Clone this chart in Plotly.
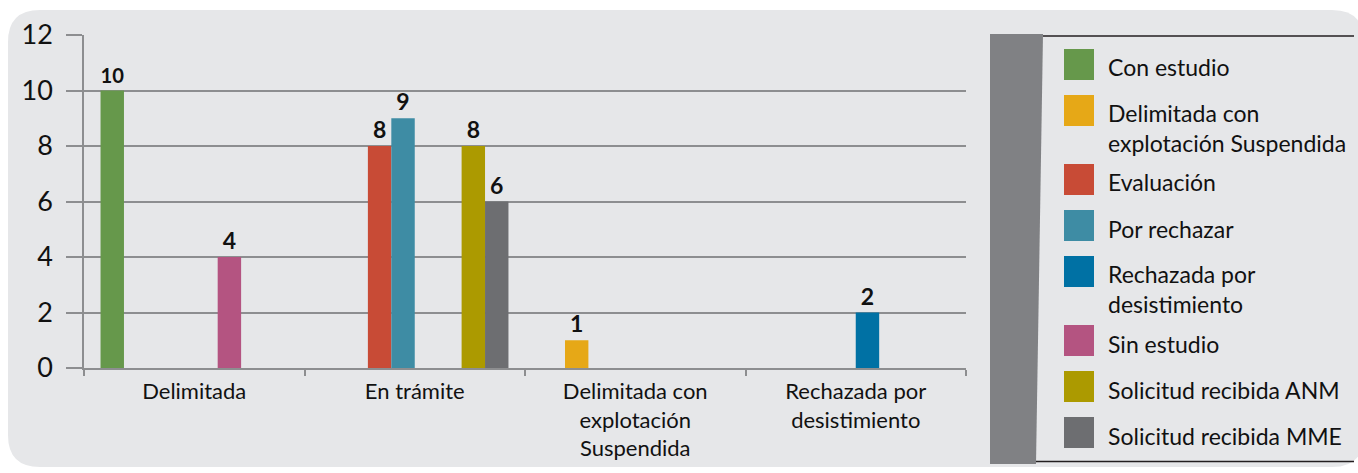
import plotly.graph_objects as go

# ---------------- data ----------------
categories = ["Delimitada", "En trámite",
              "Delimitada con<br>explotación<br>Suspendida",
              "Rechazada por<br>desistimiento"]
series_names = ["Con estudio", "Delimitada con<br>explotación Suspendida", "Evaluación",
                "Por rechazar", "Rechazada por<br>desistimiento", "Sin estudio",
                "Solicitud recibida ANM", "Solicitud recibida MME"]
con_estudio = [10, None, None, None]
delimitada_susp = [None, None, 1, None]
evaluacion = [None, 8, None, None]
por_rechazar = [None, 9, None, None]
rechazada_des = [None, None, None, 2]
sin_estudio = [4, None, None, None]
sol_anm = [None, 8, None, None]
sol_mme = [None, 6, None, None]
series_values = [con_estudio, delimitada_susp, evaluacion, por_rechazar,
                 rechazada_des, sin_estudio, sol_anm, sol_mme]
colors = ["#66984b", "#e6a817", "#c84b36", "#3e8ca4",
          "#0071a4", "#b45481", "#ac9a00", "#6d6e71"]
y_ticks = [0, 2, 4, 6, 8, 10, 12]

FONT = "Lato"
W, H = 1358, 473
L, R, T, B = 84, 966, 35, 368  # plot area in pixels


def px(x):
    return (x - L) / (R - L)


def py(y):
    return (B - y) / (B - T)


fig = go.Figure()
for name, vals, col in zip(series_names, series_values, colors):
    fig.add_trace(go.Bar(
        x=categories, y=vals, name=name.replace("<br>", " "),
        marker=dict(color=col, line=dict(width=0)),
        texttemplate="%{y}", textposition="outside",
        textfont=dict(family=FONT, size=23, color="#111111", weight="bold"),
        cliponaxis=False, showlegend=False,
    ))

shapes = []
# rounded background panel
x0, x1, y0, y1, r = 8, 1364, 10, 467, 32
path = (f"M {px(x0+r)},{py(y0)} L {px(x1-r)},{py(y0)} Q {px(x1)},{py(y0)} {px(x1)},{py(y0+r)} "
        f"L {px(x1)},{py(y1-r)} Q {px(x1)},{py(y1)} {px(x1-r)},{py(y1)} "
        f"L {px(x0+r)},{py(y1)} Q {px(x0)},{py(y1)} {px(x0)},{py(y1-r)} "
        f"L {px(x0)},{py(y0+r)} Q {px(x0)},{py(y0)} {px(x0+r)},{py(y0)} Z")
shapes.append(dict(type="path", xref="paper", yref="paper", path=path,
                   fillcolor="#e6e7e9", line=dict(width=0), layer="below"))

# legend decoration: grey bar and rules
bar_path = (f"M {px(990)},{py(34)} L {px(1043)},{py(34)} L {px(1036)},{py(464)} "
            f"L {px(990)},{py(464)} Z")
shapes.append(dict(type="path", xref="paper", yref="paper", path=bar_path,
                   fillcolor="#808184", line=dict(width=0), layer="above"))
shapes.append(dict(type="line", xref="paper", yref="paper", x0=px(1043), x1=px(1354),
                   y0=py(36), y1=py(36), line=dict(color="#231f20", width=1.5)))
shapes.append(dict(type="line", xref="paper", yref="paper", x0=px(1036), x1=px(1354),
                   y0=py(461.5), y1=py(461.5), line=dict(color="#231f20", width=1.5)))

annotations = []
top = 49
for name, col in zip(series_names, colors):
    nlines = name.count("<br>") + 1
    shapes.append(dict(type="rect", xref="paper", yref="paper",
                       x0=px(1064), x1=px(1094), y0=py(top), y1=py(top + 31),
                       fillcolor=col, line=dict(width=0)))
    cy = top + 15.5 + 3 + (nlines - 1) * 14.5
    annotations.append(dict(xref="paper", yref="paper", x=px(1106), y=py(cy),
                            xanchor="left", yanchor="middle", align="left",
                            text=name, showarrow=False,
                            font=dict(family=FONT, size=23, color="#111111")))
    top += 46 + 23 * (nlines - 1)

fig.update_layout(
    width=W, height=H,
    margin=dict(l=L, r=W - R, t=T, b=H - B, pad=0),
    paper_bgcolor="white", plot_bgcolor="rgba(0,0,0,0)",
    barmode="group", bargap=0.15, bargroupgap=0,
    shapes=shapes, annotations=annotations,
    showlegend=False,
    font=dict(family=FONT, color="#111111"),
)
fig.update_yaxes(range=[0, 12], tickvals=y_ticks, showgrid=True,
                 gridcolor="#8d8e90", gridwidth=1.5,
                 showline=True, linecolor="#8d8e90", linewidth=1.5,
                 ticks="outside", ticklen=16, tickcolor="#8d8e90", tickwidth=1.5,
                 tickfont=dict(family=FONT, size=27, color="#111111"),
                 ticklabelstandoff=8, zeroline=False)
fig.update_xaxes(showline=True, linecolor="#8d8e90", linewidth=1.5,
                 ticks="outside", tickson="boundaries", ticklen=6,
                 tickcolor="#8d8e90", tickwidth=1.5,
                 tickfont=dict(family=FONT, size=22, color="#111111"),
                 ticklabelstandoff=3)

fig.write_html("out.html", config={"displayModeBar": False},
               post_script="document.body.style.margin='0px';document.body.style.overflow='hidden';")
